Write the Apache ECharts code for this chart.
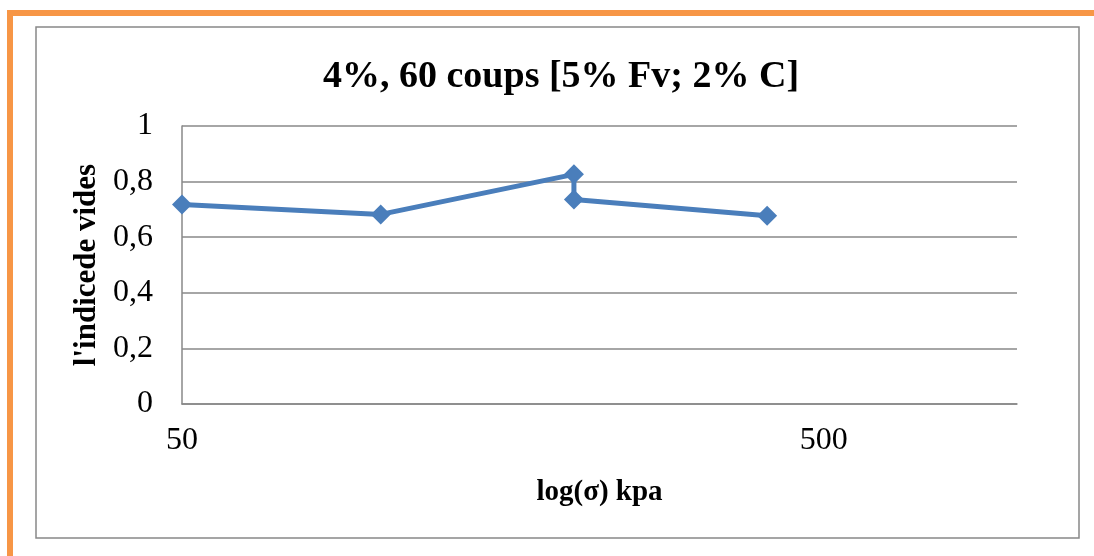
<!DOCTYPE html>
<html>
<head>
<meta charset="utf-8">
<script src="https://cdn.jsdelivr.net/npm/echarts@6/dist/echarts.min.js"></script>
<style>html,body{margin:0;padding:0;background:#fff;}#c{width:1094px;height:556px;}</style>
</head>
<body>
<div id="c"></div>
<script>
var sigma = [50, 102, 204, 204, 408];
var voidRatio = [0.718, 0.682, 0.826, 0.736, 0.677];
var xTickLabels = [50, 500];
var yTicks = [0, 0.2, 0.4, 0.6, 0.8, 1];

var points = sigma.map(function (s, i) { return [s, voidRatio[i]]; });
var serif = '"Liberation Serif", "Times New Roman", serif';
var chart = echarts.init(document.getElementById('c'), null, {renderer: 'canvas'});
chart.setOption({
  backgroundColor: '#ffffff',
  animation: false,
  title: {
    text: '4%, 60 coups [5% Fv; 2% C]',
    left: 318, top: 53,
    textStyle: {fontFamily: serif, fontWeight: 'bold', fontSize: 38, color: '#000'}
  },
  graphic: [
    {type: 'rect', shape: {x: 36, y: 27, width: 1043, height: 511}, style: {fill: 'none', stroke: '#888888', lineWidth: 1.5}, z: -1},
    {type: 'line', shape: {x1: 7, y1: 13, x2: 1094, y2: 13}, style: {stroke: '#f79646', lineWidth: 6}},
    {type: 'line', shape: {x1: 10, y1: 10, x2: 10, y2: 556}, style: {stroke: '#f79646', lineWidth: 6}}
  ],
  grid: {left: 182, right: 77, top: 126, bottom: 152, containLabel: false},
  xAxis: {
    type: 'log', logBase: 10, min: 50, max: 1000,
    name: 'log(σ) kpa', nameLocation: 'middle', nameGap: 74,
    nameTextStyle: {fontFamily: serif, fontWeight: 'bold', fontSize: 29, color: '#000'},
    axisLine: {show: true, lineStyle: {color: '#888888', width: 1.5}},
    axisTick: {show: false},
    splitLine: {show: false},
    minorSplitLine: {show: false},
    axisLabel: {customValues: xTickLabels, margin: 21, fontFamily: serif, fontSize: 32, color: '#000',
      formatter: function (v) { return String(Math.round(v)); }}
  },
  yAxis: {
    type: 'value', min: 0, max: 1, interval: 0.2,
    name: "l'indicede vides", nameLocation: 'middle', nameGap: 76,
    nameTextStyle: {fontFamily: serif, fontWeight: 'bold', fontSize: 31, color: '#000'},
    axisLine: {show: true, lineStyle: {color: '#888888', width: 1.5}},
    axisTick: {show: false},
    splitLine: {show: true, lineStyle: {color: '#888888', width: 1.5}},
    axisLabel: {margin: 29, fontFamily: serif, fontSize: 32, color: '#000',
      formatter: function (v) { return String(+v.toFixed(1)).replace('.', ','); }}
  },
  series: [{
    type: 'line',
    data: points,
    symbol: 'diamond', symbolSize: 20,
    lineStyle: {color: '#4a7ebb', width: 5},
    itemStyle: {color: '#4a7ebb'}
  }]
});
</script>
</body>
</html>
